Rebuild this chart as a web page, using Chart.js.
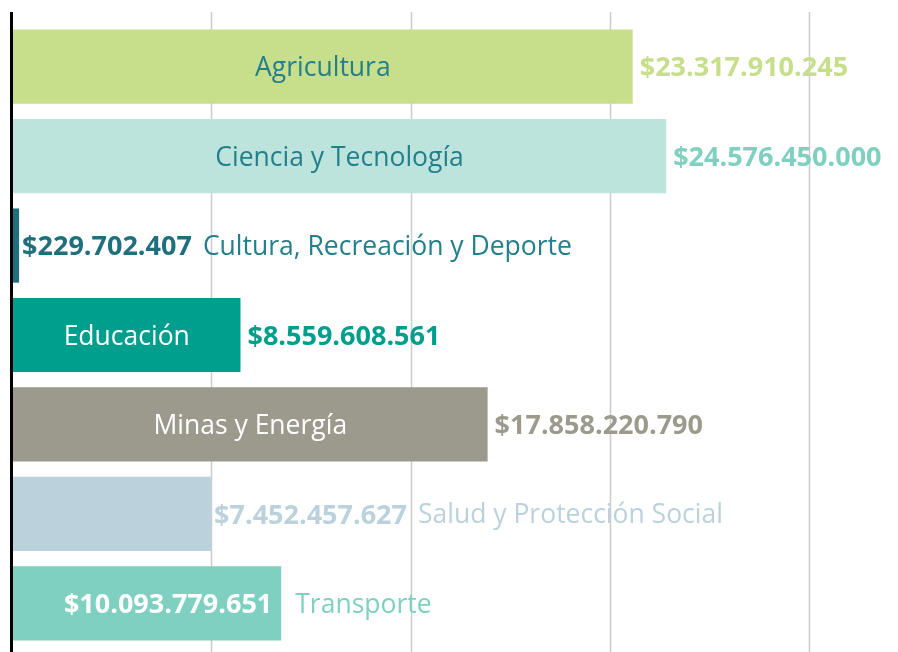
<!DOCTYPE html>
<html lang="es">
<head>
<meta charset="utf-8">
<script src="https://cdn.jsdelivr.net/npm/chart.js@4.4.1/dist/chart.umd.min.js"></script>
<style>
  html, body { margin: 0; padding: 0; background: #fff; }
  #wrap { position: relative; width: 898px; height: 652px; }
</style>
</head>
<body>
<div id="wrap"><canvas id="chartSectores"></canvas></div>
<script>
  // datos
  var sectores = [
    "Agricultura",
    "Ciencia y Tecnología",
    "Cultura, Recreación y Deporte",
    "Educación",
    "Minas y Energía",
    "Salud y Protección Social",
    "Transporte",
  ];
  var montos = [
    23317910245,
    24576450000,
    229702407,
    8559608561,
    17858220790,
    7452457627,
    10093779651,
  ];
  var gridPasos = [7500000000, 15000000000, 22500000000, 30000000000];

  // estilos por barra
  var barColors = ["#c7de8b", "#bde4dc", "#1f6f7c", "#009e8c", "#9c9a8d", "#bbd1dc", "#7fd0c1"];
  var valueColors = ["#c7de8b", "#7fd0c1", "#1f6f7c", "#009e8c", "#9c9a8d", "#bbd1dc", "#ffffff"];
  var nameColors = ["#237f8b", "#237f8b", "#237f8b", "#ffffff", "#ffffff", "#bbd1dc", "#7fd0c1"];
  // "in": nombre dentro; "out": valor y nombre fuera; "val": valor dentro, nombre fuera
  var labelMode = ["in", "in", "out", "in", "in", "out", "val"];

  function formatPesos(v) {
    return "$" + String(v).replace(/\B(?=(\d{3})+(?!\d))/g, ".");
  }

  var FONT = "'Open Sans', 'Noto Sans', sans-serif";

  var gridPlugin = {
    id: "gridLines",
    beforeDatasetsDraw: function (chart) {
      var ctx = chart.ctx;
      var x = chart.scales.x;
      ctx.save();
      ctx.strokeStyle = "#cccccc";
      ctx.lineWidth = 1.5;
      gridPasos.forEach(function (v) {
        var px = Math.round(x.getPixelForValue(v)) - 0.5;
        ctx.beginPath();
        ctx.moveTo(px, 12);
        ctx.lineTo(px, chart.height);
        ctx.stroke();
      });
      ctx.strokeStyle = "#000";
      ctx.lineWidth = 3;
      ctx.beginPath();
      ctx.moveTo(x.left - 1.5, 12);
      ctx.lineTo(x.left - 1.5, chart.height);
      ctx.stroke();
      ctx.restore();
    },
  };

  var labelPlugin = {
    id: "barLabels",
    afterDatasetsDraw: function (chart) {
      var ctx = chart.ctx;
      var meta = chart.getDatasetMeta(0);
      var fontName = "400 26.5px " + FONT;
      var fontVal = "700 27px " + FONT;
      ctx.save();
      ctx.textBaseline = "middle";
      meta.data.forEach(function (bar, i) {
        var left = bar.base;
        var right = bar.x;
        var y = bar.y + 2;
        var mode = labelMode[i];
        var val = formatPesos(montos[i]);
        var name = sectores[i];
        if (mode === "in") {
          ctx.font = fontName;
          ctx.fillStyle = nameColors[i];
          ctx.textAlign = "center";
          ctx.fillText(name, (left + right) / 2, y);
          ctx.font = fontVal;
          ctx.fillStyle = valueColors[i];
          ctx.textAlign = "left";
          ctx.fillText(val, right + 7, y);
        } else if (mode === "out") {
          ctx.font = fontVal;
          ctx.fillStyle = valueColors[i];
          ctx.textAlign = "left";
          var start = right + 3;
          ctx.fillText(val, start, y);
          var w = ctx.measureText(val).width;
          ctx.font = fontName;
          ctx.fillStyle = nameColors[i];
          ctx.fillText(name, start + w + 11, y);
        } else {
          ctx.font = fontVal;
          ctx.fillStyle = valueColors[i];
          ctx.textAlign = "right";
          ctx.fillText(val, right - 9, y);
          ctx.font = fontName;
          ctx.fillStyle = nameColors[i];
          ctx.textAlign = "left";
          ctx.fillText(name, right + 14, y);
        }
      });
      ctx.restore();
    },
  };

  new Chart(document.getElementById("chartSectores"), {
    type: "bar",
    data: {
      labels: sectores,
      datasets: [
        {
          data: montos,
          backgroundColor: barColors,
          borderWidth: 0,
          categoryPercentage: 1,
          barPercentage: 0.83,
        },
      ],
    },
    options: {
      indexAxis: "y",
      responsive: true,
      maintainAspectRatio: false,
      animation: false,
      layout: { padding: { left: 13, top: 22, bottom: 4, right: 0 } },
      plugins: {
        legend: { display: false },
        tooltip: { enabled: false },
      },
      scales: {
        x: {
          display: false,
          min: 0,
          max: 33300000000,
        },
        y: {
          display: false,
        },
      },
    },
    plugins: [gridPlugin, labelPlugin],
  });
</script>
</body>
</html>
